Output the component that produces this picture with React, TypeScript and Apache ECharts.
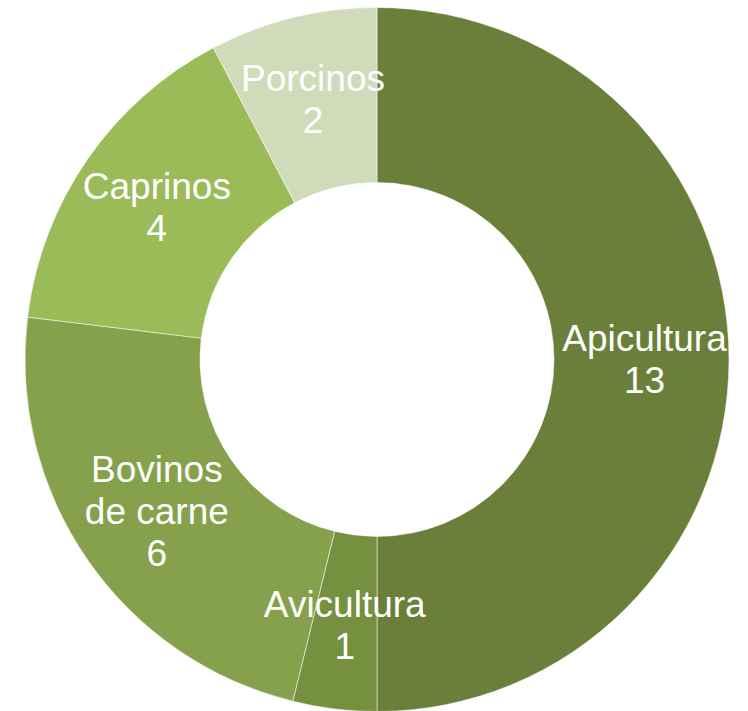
import React, { useEffect, useRef } from "react";
import * as echarts from "echarts";

const categories = ["Apicultura", "Avicultura", "Bovinos\nde carne", "Caprinos", "Porcinos"];
const values = [13, 1, 6, 4, 2];
const colors = ["#6a803a", "#75903f", "#86a14c", "#9bbb59", "#cfdbb9"];

export default function App() {
  const ref = useRef<HTMLDivElement>(null);
  useEffect(() => {
    document.body.style.margin = "0";
    const chart = echarts.init(ref.current!, null, { renderer: "svg" });
    chart.setOption({
      animation: false,
      series: [
        {
          type: "pie",
          center: [377, 359.5],
          radius: [177, 352],
          startAngle: 90,
          clockwise: true,
          avoidLabelOverlap: false,
          itemStyle: { borderColor: "rgba(255,255,255,0.5)", borderWidth: 1 },
          label: {
            show: true,
            position: "inside",
            formatter: "{b}\n{c}",
            color: "#ffffff",
            fontFamily: "'Liberation Sans', Arial, sans-serif",
            fontSize: 37,
            lineHeight: 42,
            align: "center",
          },
          labelLine: { show: false },
          emphasis: { disabled: true },
          data: categories.map((c, i) => ({
            name: c,
            value: values[i],
            itemStyle: { color: colors[i] },
          })),
        },
      ],
    });
    return () => chart.dispose();
  }, []);
  return <div ref={ref} style={{ width: 748, height: 711 }} />;
}
